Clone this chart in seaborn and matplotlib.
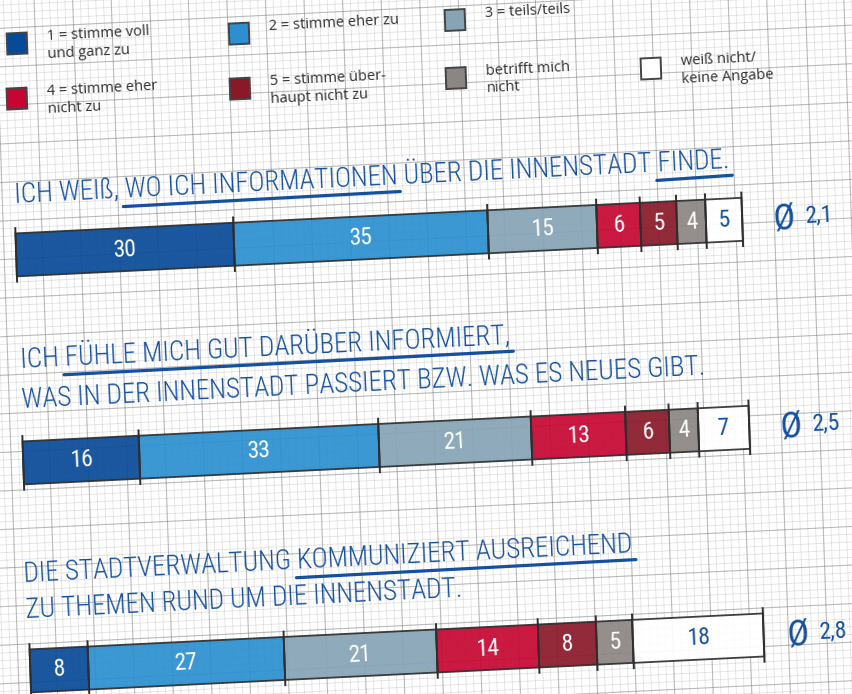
import numpy as np
import matplotlib
matplotlib.use("Agg")
import matplotlib.pyplot as plt
from matplotlib.patches import Rectangle
from matplotlib.transforms import Affine2D
import seaborn as sns

# ---------------------------------------------------------------- data
questions = [
    "Ich weiß, wo ich Informationen finde",
    "Ich fühle mich gut informiert",
    "Die Stadtverwaltung kommuniziert ausreichend",
]
response_labels = [
    "1 = stimme voll\nund ganz zu",
    "2 = stimme eher zu",
    "3 = teils/teils",
    "4 = stimme eher\nnicht zu",
    "5 = stimme über-\nhaupt nicht zu",
    "betrifft mich\nnicht",
    "weiß nicht/\nkeine Angabe",
]
stimme_voll = [30, 16, 8]
stimme_eher = [35, 33, 27]
teils_teils = [15, 21, 21]
eher_nicht = [6, 13, 14]
ueberhaupt_nicht = [5, 6, 8]
betrifft_nicht = [4, 4, 5]
weiss_nicht = [5, 7, 18]
mean_scores = ["2,1", "2,5", "2,8"]

title_lines = [
    ["ICH WEIß, WO ICH INFORMATIONEN ÜBER DIE INNENSTADT FINDE."],
    ["ICH FÜHLE MICH GUT DARÜBER INFORMIERT,",
     "WAS IN DER INNENSTADT PASSIERT BZW. WAS ES NEUES GIBT."],
    ["DIE STADTVERWALTUNG KOMMUNIZIERT AUSREICHEND",
     "ZU THEMEN RUND UM DIE INNENSTADT."],
]
underlined = [
    [(0, "WO ICH INFORMATIONEN"), (0, "FINDE.")],
    [(0, "FÜHLE MICH GUT DARÜBER INFORMIERT,")],
    [(0, "KOMMUNIZIERT AUSREICHEND")],
]

series = [stimme_voll, stimme_eher, teils_teils, eher_nicht,
          ueberhaupt_nicht, betrifft_nicht, weiss_nicht]

# ---------------------------------------------------------------- style
W, H, DPI = 852, 694, 100
RISE = 0.049                     # rows climb to the right
LEAN = 0.034                     # columns drift right downwards
TILT = np.degrees(np.arctan(RISE))
PIVOT = (426, 347)
BLUE = "#1550a0"
INK = "#333333"
EDGE = "#2e2e2e"
colors = ["#074a98", "#2b8fd0", "#86a4b6", "#c60632",
          "#8a1828", "#8b8583", "#ffffff"]
label_colors = ["white"] * 6 + [BLUE]

sns.set_style("white")
plt.rcParams["font.family"] = ["Open Sans", "DejaVu Sans"]
HAND = dict(family=["Roboto Condensed", "DejaVu Sans"], stretch="condensed")
TITLE_FONT = dict(HAND, weight="light")

fig = plt.figure(figsize=(W / DPI, H / DPI), dpi=DPI)
fig.patch.set_facecolor("white")

ax = fig.add_axes([0, 0, 1, 1])
ax.set_xlim(0, W)
ax.set_ylim(H, 0)
ax.axis("off")

# sheet distortion in display pixels (y up)
cx, cy_disp = PIVOT[0], H - PIVOT[1]
tilt = Affine2D(np.array([[1.0, -LEAN, LEAN * cy_disp],
                          [RISE, 1.0, -RISE * cx],
                          [0.0, 0.0, 1.0]]))
T = ax.transData + tilt
renderer = fig.canvas.get_renderer()


def text_width(s, size):
    t = ax.text(0, 0, s, fontsize=size, **TITLE_FONT)
    w = t.get_window_extent(renderer).width
    t.remove()
    return w


# ---------------------------------------------------------------- graph paper
step = 7.7
fine = np.arange(-300, W + 300, step)
major = fine[::5]
for pos, c, lw, a in [(fine, "#8a8a8a", 0.6, 0.24), (major, "#6f6f6f", 0.8, 0.36)]:
    ax.vlines(pos, -300, H + 300, colors=c, linewidth=lw, alpha=a, transform=T, zorder=1)
    ax.hlines(pos, -300, W + 300, colors=c, linewidth=lw, alpha=a, transform=T, zorder=1)

# ---------------------------------------------------------------- legend
legend_pos = [(28, 24), (250, 25), (466, 22),
              (26, 79), (249, 80), (465, 80), (660, 80)]
for (lx, ly), col, lab in zip(legend_pos, colors, response_labels):
    ax.add_patch(Rectangle((lx - 10, ly - 10.5), 20, 21, facecolor=col,
                           edgecolor="#444444", linewidth=1.4, transform=T, zorder=3))
    ax.text(lx + 30, ly - 13, lab, transform=T, rotation=TILT, rotation_mode="anchor",
            ha="left", va="top", fontsize=10.5, color=INK, linespacing=1.25, zorder=4)

# ---------------------------------------------------------------- titles
FIRST_TITLE_W = 712
TITLE_SIZE = 10 * FIRST_TITLE_W / text_width(title_lines[0][0], 10)
title_pos = [(20, [183]), (21, [348, 388]), (17, [562, 598])]

for lines, (x0, baselines), marks in zip(title_lines, title_pos, underlined):
    for line, yb in zip(lines, baselines):
        ax.text(x0, yb, line, transform=T, rotation=TILT, rotation_mode="anchor",
                ha="left", va="baseline", fontsize=TITLE_SIZE, color=BLUE,
                zorder=4, **TITLE_FONT)
    for li, word in marks:
        line = lines[li]
        k = line.index(word)
        start = text_width(line[:k] + word, TITLE_SIZE) - text_width(word, TITLE_SIZE)
        end = text_width(line[:k + len(word)], TITLE_SIZE)
        yb = baselines[li] + 9
        ax.plot([x0 + start - 2, x0 + end + 2], [yb, yb - 1.5], color=BLUE,
                linewidth=2.3, solid_capstyle="round", transform=T, zorder=4)

# ---------------------------------------------------------------- stacked bars
BAR_LEFT, BAR_RIGHT = 20, 746
FIRST_C, LAST_C = 235, 651
PAD = 0.2
span = (LAST_C - FIRST_C) / (len(questions) - 1)
top_px = FIRST_C - PAD * span
bot_px = LAST_C + PAD * span
BAR_W = 43 / span

bx = fig.add_axes([BAR_LEFT / W, 1 - bot_px / H,
                   (BAR_RIGHT - BAR_LEFT) / W, (bot_px - top_px) / H])
TB = bx.transData + tilt

left = np.zeros(len(questions))
for vals, col in zip(series, colors):
    sns.barplot(x=vals, y=questions, orient="h", left=left, color=col,
                saturation=1, width=BAR_W, errorbar=None, alpha=0.92,
                edgecolor=EDGE, linewidth=1.3, ax=bx)
    left = left + np.array(vals)

bx.set_xlim(0, 100)
bx.set_ylim(len(questions) - 1 + PAD, -PAD)
bx.axis("off")
for p in bx.patches:
    p.set_transform(TB)
    p.set_clip_on(False)

rows = np.array(series).T
for i, row in enumerate(rows):
    edges = np.concatenate([[0], np.cumsum(row)])
    bx.vlines(edges, i - BAR_W / 2 - 0.03, i + BAR_W / 2 + 0.03, colors=EDGE,
              linewidth=1.4, transform=TB, clip_on=False)
    for v, l0, tc in zip(row, edges[:-1], label_colors):
        bx.text(l0 + v / 2, i, str(v), transform=TB, rotation=TILT,
                rotation_mode="anchor", ha="center", va="center",
                fontsize=17, color=tc, **HAND)
    bx.text(105.8, i + 0.01, "Ø", transform=TB, rotation=TILT, rotation_mode="anchor",
            ha="center", va="center", fontsize=26, color=BLUE, **HAND)
    bx.text(108.7, i, mean_scores[i], transform=TB, rotation=TILT,
            rotation_mode="anchor", ha="left", va="center", fontsize=17,
            color=BLUE, **HAND)

fig.savefig("out.png", dpi=DPI, facecolor="white")
